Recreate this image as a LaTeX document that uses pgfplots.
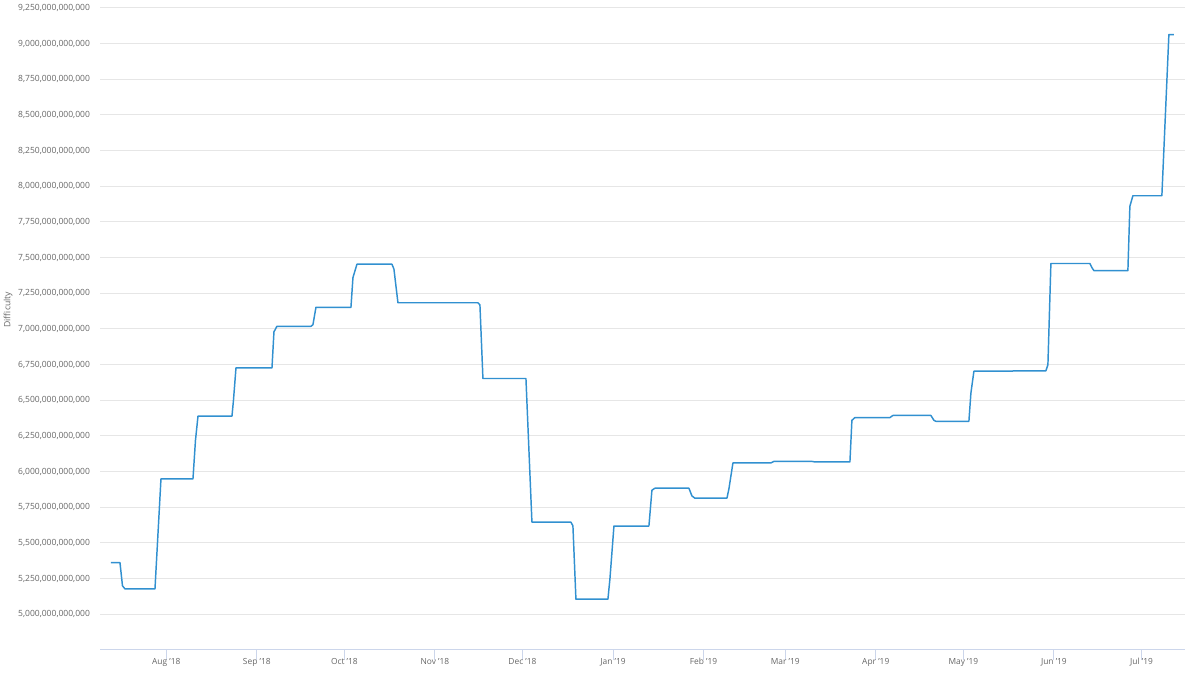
\documentclass[border=0pt]{standalone}
\usepackage{fontspec}
\setmainfont{Open Sans}
\usepackage{pgfplots}
\pgfplotsset{compat=1.18}
\definecolor{txt}{HTML}{666666}
\definecolor{gridc}{HTML}{E6E6E6}
\definecolor{axc}{HTML}{CCD6EB}
\definecolor{lineblue}{RGB}{49,144,208}
\begin{document}
\begin{tikzpicture}
\useasboundingbox (0,0) rectangle (900pt,510.75pt);
\begin{axis}[
  at={(75pt,23.25pt)}, anchor=south west,
  scale only axis, width=813.75pt, height=481.5pt,
  xmin=8.3, xmax=379.9, ymin=4.75, ymax=9.25,
  axis x line*=bottom, axis y line*=left,
  x axis line style={draw=axc, line width=0.75pt, -},
  y axis line style={draw=none},
  xtick={31,62,92,123,153,184,215,243,274,304,335,365},
  xticklabels={Aug '18,Sep '18,Oct '18,Nov '18,Dec '18,Jan '19,Feb '19,Mar '19,Apr '19,May '19,Jun '19,Jul '19},
  ytick={5,5.25,...,9.25},
  yticklabels={{5,000,000,000,000},{5,250,000,000,000},{5,500,000,000,000},{5,750,000,000,000},{6,000,000,000,000},{6,250,000,000,000},{6,500,000,000,000},{6,750,000,000,000},{7,000,000,000,000},{7,250,000,000,000},{7,500,000,000,000},{7,750,000,000,000},{8,000,000,000,000},{8,250,000,000,000},{8,500,000,000,000},{8,750,000,000,000},{9,000,000,000,000},{9,250,000,000,000}},
  tick align=outside,
  major tick length=7.5pt,
  x tick style={draw=axc, line width=0.75pt},
  y tick style={draw=none},
  ymajorgrids, grid style={draw=gridc, line width=0.75pt},
  xticklabel style={font=\fontsize{6.3}{7}\selectfont, text=txt, yshift=5pt},
  yticklabel style={font=\fontsize{6.4}{7}\selectfont, text=txt, xshift=3.5pt},
  ylabel={Difficulty},
  every axis y label/.style={at={(axis description cs:-0.0848,0.53)}, rotate=90, anchor=center, font=\fontsize{6.5}{7}\selectfont, text=txt},
  clip=false,
]
\addplot[lineblue, line width=1.1pt, line join=round] coordinates {
(12.06,5.363) (15.14,5.363) (16.0,5.20) (16.86,5.178) (27.13,5.178)
(29.18,5.949) (40.14,5.949) (41.0,6.22) (41.86,6.389) (53.5,6.389)
(54.01,6.50) (54.87,6.727) (67.2,6.727) (67.88,6.98) (68.9,7.019)
(80.55,7.019) (81.23,7.03) (82.26,7.152) (94.25,7.152) (94.93,7.36)
(96.3,7.454) (108.29,7.454) (108.97,7.42) (110.34,7.184) (137.74,7.184)
(138.42,7.17) (139.45,6.653) (154.18,6.653) (156.23,5.646) (169.59,5.646)
(170.27,5.62) (171.3,5.106) (182.26,5.106) (182.95,5.25) (184.32,5.619)
(196.3,5.619) (197.33,5.87) (198.36,5.884) (210.0,5.884) (211.03,5.83)
(212.06,5.814) (223.02,5.814) (223.7,5.88) (225.07,6.061) (238.08,6.061)
(239.11,6.072) (252.12,6.072) (253.15,6.068) (265.14,6.068) (265.82,6.36)
(266.85,6.379) (278.84,6.379) (279.86,6.394) (292.88,6.394) (293.9,6.36)
(294.59,6.353) (305.89,6.353) (306.57,6.55) (307.6,6.704) (320.62,6.704)
(321.3,6.707) (332.26,6.707) (332.95,6.75) (333.97,7.459) (347.33,7.459)
(348.01,7.43) (348.7,7.409) (360.34,7.409) (361.02,7.86) (362.05,7.934)
(371.98,7.934) (374.38,9.064) (376.1,9.064)
};
\end{axis}
\end{tikzpicture}
\end{document}
